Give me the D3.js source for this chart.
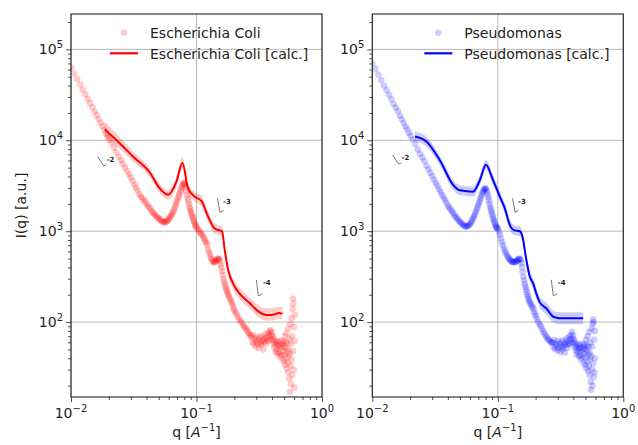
<!DOCTYPE html>
<html>
<head>
<meta charset="utf-8">
<script src="https://cdn.jsdelivr.net/npm/d3@7"></script>
<style>
  body { margin: 0; background: #fff; }
  svg { font-family: "DejaVu Sans", sans-serif; }
</style>
</head>
<body>
<div id="chart"></div>
<script>
// measured scattering curves, q in 1/A, intensity in a.u.
const ecoliQ = [0.0100,0.0106,0.0112,0.0118,0.0124,0.0130,0.0136,0.0142,0.0148,0.0154,0.0160,0.0166,0.0172,0.0178,0.0184,0.0190,0.0196,0.0202,
  0.021,0.022,0.023,0.024,0.025,0.026,0.027,0.028,0.029,0.030,0.031,0.032,0.033,0.034,0.035,0.036,0.037,0.038,0.039,0.040,
  0.041,0.042,0.043,0.044,0.045,0.046,0.047,0.048,0.049,0.050,0.051,0.052,0.053,0.054,0.055,0.056,0.057,0.058,0.059,0.060,
  0.061,0.062,0.063,0.064,0.065,0.066,0.067,0.068,0.069,0.070,0.071,0.072,0.073,0.074,0.075,0.076,0.077,0.078,0.079,0.080,
  0.081,0.082,0.083,0.084,0.085,0.086,0.087,0.088,0.089,0.090,0.091,0.092,0.093,0.094,0.095,0.096,0.097,0.098,0.099,0.100,
  0.102,0.104,0.106,0.108,0.110,0.112,0.114,0.116,0.118,0.120,0.122,0.124,0.126,0.128,0.130,0.132,0.134,0.136,0.138,0.140,
  0.142,0.144,0.146,0.148,0.150,0.152,0.154,0.156,0.158,0.160,0.162,0.164,0.166,0.168,0.170,0.172,0.174,0.176,0.178,0.180,
  0.183,0.186,0.189,0.192,0.195,0.198,0.201,0.205,0.210,0.215,0.220,0.225,0.230,0.235,0.240,0.245,0.250,0.255,0.260,0.265,0.270,
  0.274,0.278,0.282,0.286,0.290,0.294,0.298,0.302,0.306,0.310,0.314,0.318,0.322,0.326,0.330,0.334,0.338,0.342,0.346,0.350,
  0.354,0.358,0.362,0.366,0.370,0.374,0.378,0.382,0.386,0.390,0.394,0.398,0.402,0.406,0.410,0.414,0.418,0.422,0.426,0.430,
  0.434,0.438,0.442,0.446,0.450,0.454,0.458,0.462,0.466,0.470,0.474,0.478,0.482,0.486,
  0.490,0.493,0.496,0.499,0.502,0.505,0.508,0.511,0.514,0.517,0.520,0.523,0.526,0.529,0.532,0.535,0.538,0.541,0.544,0.547,
  0.550,0.553,0.556,0.559,0.562,0.565,0.568,0.571,0.574,0.577,0.580,0.583,0.586,0.589,0.592,0.595,0.598,0.601,0.604,0.607];
const ecoliI = [63000,54300,47200,41100,36300,32000,28400,25600,23000,20700,18800,17100,15500,14300,13000,11800,10900,10100,
  9300,8300,7400,6600,6000,5500,5000,4600,4200,3900,3550,3250,3000,2800,2550,2400,2300,2200,2100,2000,
  1900,1820,1740,1660,1600,1550,1500,1450,1410,1380,1350,1320,1290,1270,1255,1250,1265,1290,1320,1350,
  1400,1450,1500,1550,1620,1700,1800,1900,2020,2150,2270,2400,2550,2700,2850,3000,3150,3300,3380,3400,
  3250,3000,2750,2500,2300,2150,2000,1850,1750,1660,1580,1500,1440,1380,1320,1260,1210,1170,1130,1100,
  1060,1020,985,950,920,890,850,810,775,740,700,630,590,550,515,490,470,457,455,457,
  468,480,492,500,498,490,465,427,395,363,330,302,280,263,248,234,224,214,204,195,
  185,176,168,160,150,140,133,127,120,113,107,102,98,93,89,86,83,80,76,73,71,
  68,60,72,57,66,61,54,69,58,64,52,67,60,56,70,59,63,50,66,61,
  73,58,68,64,76,62,71,79,66,82,72,77,64,70,58,66,53,61,47,57,
  50,62,45,55,60,46,56,42,52,63,44,54,39,58,
  48,62,37,55,44,70,34,52,60,40,76,31,47,58,36,85,28,50,42,66,
  24,17,45,95,33,58,21,110,38,70,26,140,182,48,160,30,88,19,62,120];

const pseudoQ = [0.0100,0.0106,0.0112,0.0118,0.0124,0.0130,0.0136,0.0142,0.0148,0.0154,0.0160,0.0166,0.0172,0.0178,0.0184,0.0190,0.0196,0.0202,
  0.021,0.022,0.023,0.024,0.025,0.026,0.027,0.028,0.029,0.030,0.031,0.032,0.033,0.034,0.035,0.036,0.037,0.038,0.039,0.040,
  0.041,0.042,0.043,0.044,0.045,0.046,0.047,0.048,0.049,0.050,0.051,0.052,0.053,0.054,0.055,0.056,0.057,0.058,0.059,0.060,
  0.061,0.062,0.063,0.064,0.065,0.066,0.067,0.068,0.069,0.070,0.071,0.072,0.073,0.074,0.075,0.076,0.077,0.078,0.079,0.080,
  0.081,0.082,0.083,0.084,0.085,0.086,0.087,0.088,0.089,0.090,0.091,0.092,0.093,0.094,0.095,0.096,0.097,0.098,0.099,0.100,
  0.102,0.104,0.106,0.108,0.110,0.112,0.114,0.116,0.118,0.120,0.122,0.124,0.126,0.128,0.130,0.132,0.134,0.136,0.138,0.140,
  0.142,0.144,0.146,0.148,0.150,0.152,0.154,0.156,0.158,0.160,0.162,0.164,0.166,0.168,0.170,0.172,0.174,0.176,0.178,0.180,
  0.183,0.186,0.189,0.192,0.195,0.198,0.201,0.205,0.210,0.215,0.220,0.225,0.230,0.235,0.240,0.245,0.250,0.255,0.260,0.265,0.270,
  0.274,0.278,0.282,0.286,0.290,0.294,0.298,0.302,0.306,0.310,0.314,0.318,0.322,0.326,0.330,0.334,0.338,0.342,0.346,0.350,
  0.354,0.358,0.362,0.366,0.370,0.374,0.378,0.382,0.386,0.390,0.394,0.398,0.402,0.406,0.410,0.414,0.418,0.422,0.426,0.430,
  0.434,0.438,0.442,0.446,0.450,0.454,0.458,0.462,0.466,0.470,0.474,0.478,0.482,0.486,
  0.490,0.493,0.496,0.499,0.502,0.505,0.508,0.511,0.514,0.517,0.520,0.523,0.526,0.529,0.532,0.535,0.538,0.541,0.544,0.547,
  0.550,0.553,0.556,0.559,0.562,0.565,0.568,0.571,0.574,0.577,0.580,0.583,0.586,0.589,0.592,0.595];
const pseudoI = [70000,61000,52500,45700,39800,35500,31600,28200,25100,22900,20900,18600,17000,15500,14100,13200,12000,11200,
  10200,9100,7900,7100,6500,5900,5250,4800,4400,4050,3700,3400,3150,2900,2700,2500,2350,2200,2050,1900,
  1820,1740,1660,1580,1510,1450,1400,1350,1300,1260,1230,1200,1170,1150,1130,1120,1130,1150,1170,1200,
  1240,1290,1350,1410,1480,1550,1640,1740,1840,1950,2070,2190,2320,2450,2580,2700,2800,2900,2940,2950,
  2850,2700,2520,2350,2170,2000,1860,1740,1640,1550,1460,1380,1320,1260,1200,1150,1120,1090,1080,1070,
  990,910,830,760,700,645,605,575,548,525,505,490,478,468,462,457,455,457,462,468,
  474,480,490,500,495,480,445,400,355,316,288,263,245,229,214,200,190,180,172,165,
  158,152,146,140,130,122,116,108,100,95,90,84,79,75,71,68,66,64,62,60,59,
  60,53,64,51,58,55,49,62,52,57,47,60,54,50,63,53,57,46,60,56,
  66,52,62,58,69,57,65,72,60,78,66,71,58,64,53,60,49,56,44,52,
  47,57,42,51,55,43,52,39,48,58,41,50,36,54,
  45,57,34,51,41,64,31,48,55,37,70,29,44,53,33,78,26,46,39,60,
  22,18,42,85,30,54,20,96,107,35,100,25,64,28,80,40];

// fitted curves with their uncertainty bands
const ecoliCalcQ = [0.0186,0.0231,0.0313,0.0427,0.0500,0.0594,0.0692,0.0773,0.0857,0.0970,0.1096,0.1236,0.1396,0.1531,0.1596,0.1679,0.1786,0.2018,0.2213,0.265,0.309,0.359,0.400,0.457,0.483];
const ecoliCalcI = [13200,10000,6600,4370,3050,2510,3510,5620,2950,2400,2140,1450,1070,1020,1000,620,376,245,204,162,132,120,120,126,123];
const ecoliCalcLo = [11000,8600,5800,3900,2720,2220,3100,4900,2600,2120,1880,1280,940,900,880,540,330,215,178,140,114,104,104,108,106];
const ecoliCalcHi = [16000,11800,7500,4900,3420,2850,3980,6500,3350,2720,2440,1650,1220,1160,1150,710,430,280,235,188,155,142,142,148,146];

const pseudoCalcQ = [0.0219,0.0271,0.0346,0.0440,0.0499,0.0635,0.0719,0.0804,0.0918,0.1038,0.1138,0.1245,0.1365,0.1496,0.1585,0.1671,0.1799,0.1905,0.2042,0.2158,0.2443,0.2754,0.2931,0.311,0.400,0.479];
const pseudoCalcI = [11000,9650,6000,3240,2820,2720,3630,5370,3630,2400,1780,1175,1020,1000,830,525,316,270,200,166,141,115,112,110,110,110];
const pseudoCalcLo = [9700,8500,5300,2850,2480,2400,3200,4730,3200,2110,1570,1035,900,880,730,460,278,235,174,143,121,99,96,95,95,95];
const pseudoCalcHi = [12500,10950,6800,3680,3200,3090,4120,6100,4120,2720,2020,1335,1160,1135,940,600,360,310,232,193,164,134,130,128,128,128];

// power-law slope markers
const slopeLabels = ["-2", "-3", "-4"];
const ecoliSlopeQ = [0.0163, 0.147, 0.30];
const ecoliSlopeI = [6600, 2290, 292];
const pseudoSlopeQ = [0.0145, 0.131, 0.267];
const pseudoSlopeI = [6900, 2300, 292];

const xTicks = [0.01, 0.1, 1];
const xTickExp = ["\u22122", "\u22121", "0"];
const yTicks = [1e2, 1e3, 1e4, 1e5];
const yTickExp = ["2", "3", "4", "5"];

const width = 638, height = 445;
const plotTop = 14, plotBottom = 397;

const svg = d3.select("#chart").append("svg")
  .attr("width", width)
  .attr("height", height);

function minorTicks(lo, hi) {
  const out = [];
  for (let e = Math.floor(Math.log10(lo)); e <= Math.ceil(Math.log10(hi)); e++) {
    for (let m = 2; m <= 9; m++) {
      const v = m * Math.pow(10, e);
      if (v >= lo && v <= hi) out.push(v);
    }
  }
  return out;
}

// tiny slope glyph drawn next to each marker, in px from its anchor
const slopeShapes = [
  [[0, 0], [6, 9], [9, 8]],
  [[0, 0], [2.5, 14], [6, 12]],
  [[0, 0], [2, 16], [6, 14]]
];
const slopeLabelOff = [[9, 5], [5.5, 5.5], [6.5, 5]];

function drawPanel(p) {
  const x = d3.scaleLog().domain([0.01, 1]).range([p.left, p.right]);
  const y = d3.scaleLog().domain([15, 2.45e5]).range([plotBottom, plotTop]);
  const g = svg.append("g");

  g.append("clipPath").attr("id", "clip-" + p.id)
    .append("rect")
    .attr("x", p.left).attr("y", plotTop)
    .attr("width", p.right - p.left).attr("height", plotBottom - plotTop);

  // grid
  g.append("g").selectAll("line").data(xTicks).join("line")
    .attr("x1", d => x(d)).attr("x2", d => x(d))
    .attr("y1", plotTop).attr("y2", plotBottom)
    .attr("stroke", "#b0b0b0").attr("stroke-width", 0.9);
  g.append("g").selectAll("line").data(yTicks).join("line")
    .attr("x1", p.left).attr("x2", p.right)
    .attr("y1", d => y(d)).attr("y2", d => y(d))
    .attr("stroke", "#b0b0b0").attr("stroke-width", 0.9);

  const plot = g.append("g").attr("clip-path", `url(#clip-${p.id})`);

  const pts = p.q.map((q, i) => ({ q, I: p.I[i] }));
  plot.append("g").selectAll("circle").data(pts).join("circle")
    .attr("cx", d => x(d.q))
    .attr("cy", d => y(d.I))
    .attr("r", 3.3)
    .attr("fill", p.color).attr("fill-opacity", 0.2);

  const calc = p.cq.map((q, i) => ({ q, I: p.cI[i], lo: p.cLo[i], hi: p.cHi[i] }));
  plot.append("path").datum(calc)
    .attr("fill", p.color).attr("fill-opacity", 0.2)
    .attr("d", d3.area().curve(d3.curveMonotoneX)
      .x(d => x(d.q)).y0(d => y(d.lo)).y1(d => y(d.hi)));
  plot.append("path").datum(calc)
    .attr("fill", "none").attr("stroke", p.color).attr("stroke-width", 2)
    .attr("d", d3.line().curve(d3.curveMonotoneX).x(d => x(d.q)).y(d => y(d.I)));

  // slope annotations
  p.sq.forEach((q, i) => {
    const ax = x(q), ay = y(p.sI[i]);
    g.append("path")
      .attr("d", d3.line()(slopeShapes[i].map(s => [ax + s[0], ay + s[1]])))
      .attr("fill", "none").attr("stroke", "#555").attr("stroke-width", 0.8);
    g.append("text")
      .attr("x", ax + slopeLabelOff[i][0]).attr("y", ay + slopeLabelOff[i][1])
      .attr("font-size", 7).attr("font-weight", "bold").attr("fill", "#2a1a1a")
      .text(slopeLabels[i]);
  });

  // ticks
  g.append("g").attr("transform", `translate(0,${plotBottom})`)
    .call(d3.axisBottom(x).tickValues(xTicks).tickSize(5).tickFormat(""))
    .call(a => a.select(".domain").remove());
  g.append("g").attr("transform", `translate(0,${plotBottom})`)
    .call(d3.axisBottom(x).tickValues(minorTicks(0.01, 1)).tickSize(3).tickFormat(""))
    .call(a => a.select(".domain").remove());
  g.append("g").attr("transform", `translate(${p.left},0)`)
    .call(d3.axisLeft(y).tickValues(yTicks).tickSize(5).tickFormat(""))
    .call(a => a.select(".domain").remove());
  g.append("g").attr("transform", `translate(${p.left},0)`)
    .call(d3.axisLeft(y).tickValues(minorTicks(15, 2.45e5)).tickSize(3).tickFormat(""))
    .call(a => a.select(".domain").remove());
  g.selectAll(".tick line").attr("stroke", "#222").attr("stroke-width", 0.8);

  g.append("rect")
    .attr("x", p.left).attr("y", plotTop)
    .attr("width", p.right - p.left).attr("height", plotBottom - plotTop)
    .attr("fill", "none").attr("stroke", "#222").attr("stroke-width", 1.1);

  // tick labels with superscript exponents
  xTicks.forEach((v, i) => {
    const t = g.append("text").attr("x", x(v)).attr("y", plotBottom + 21)
      .attr("text-anchor", "middle").attr("font-size", 14).attr("fill", "#222");
    t.append("tspan").text("10");
    t.append("tspan").attr("dy", -6).attr("font-size", 10).text(xTickExp[i]);
  });
  yTicks.forEach((v, i) => {
    const t = g.append("text").attr("x", p.left - 8).attr("y", y(v) + 5)
      .attr("text-anchor", "end").attr("font-size", 14).attr("fill", "#222");
    t.append("tspan").text("10");
    t.append("tspan").attr("dy", -6).attr("font-size", 10).text(yTickExp[i]);
  });

  // x label
  const xl = g.append("text").attr("x", (p.left + p.right) / 2).attr("y", 437)
    .attr("text-anchor", "middle").attr("font-size", 14).attr("fill", "#222");
  xl.append("tspan").text("q [");
  xl.append("tspan").attr("font-style", "italic").text("A");
  xl.append("tspan").attr("dy", -6).attr("font-size", 10).text("\u22121");
  xl.append("tspan").attr("dy", 6).text("]");

  // legend
  const lx = p.legendX;
  g.append("circle").attr("cx", lx + 14).attr("cy", 32.7).attr("r", 3.3)
    .attr("fill", p.color).attr("fill-opacity", 0.2);
  g.append("text").attr("x", lx + 40).attr("y", 37.5)
    .attr("font-size", 14).attr("fill", "#222").text(p.name);
  g.append("line").attr("x1", lx).attr("x2", lx + 28).attr("y1", 53.3).attr("y2", 53.3)
    .attr("stroke", p.color).attr("stroke-width", 2.2);
  g.append("text").attr("x", lx + 40).attr("y", 58.5)
    .attr("font-size", 14).attr("fill", "#222").text(p.name + " [calc.]");
}

drawPanel({
  id: "ecoli", name: "Escherichia Coli", color: "#ff0000",
  left: 71, right: 322, legendX: 110,
  q: ecoliQ, I: ecoliI,
  cq: ecoliCalcQ, cI: ecoliCalcI, cLo: ecoliCalcLo, cHi: ecoliCalcHi,
  sq: ecoliSlopeQ, sI: ecoliSlopeI
});
drawPanel({
  id: "pseudo", name: "Pseudomonas", color: "#0000ff",
  left: 372.3, right: 623.3, legendX: 424.3,
  q: pseudoQ, I: pseudoI,
  cq: pseudoCalcQ, cI: pseudoCalcI, cLo: pseudoCalcLo, cHi: pseudoCalcHi,
  sq: pseudoSlopeQ, sI: pseudoSlopeI
});

svg.append("text")
  .attr("transform", "translate(26,205.5) rotate(-90)")
  .attr("text-anchor", "middle").attr("font-size", 14).attr("fill", "#222")
  .text("I(q) [a.u.]");
</script>
</body>
</html>
